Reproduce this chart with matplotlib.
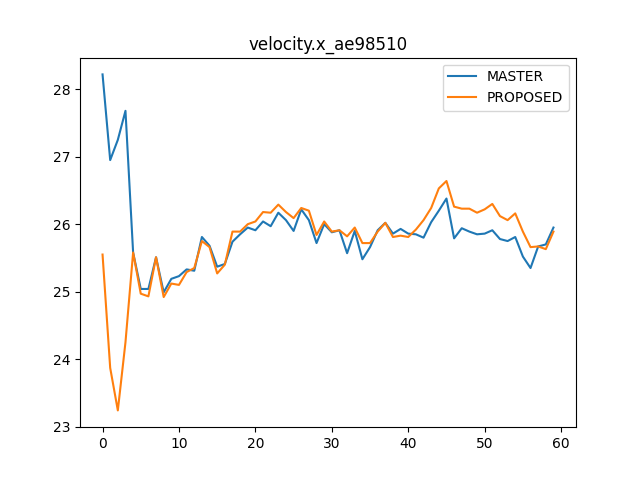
import matplotlib
matplotlib.use("Agg")
import matplotlib.pyplot as plt

# data
steps = list(range(60))

master = [
    28.22, 26.95, 27.25, 27.68, 25.58, 25.04, 25.04, 25.51, 24.99, 25.19,
    25.23, 25.33, 25.31, 25.81, 25.68, 25.37, 25.41, 25.74, 25.85, 25.95,
    25.91, 26.04, 25.97, 26.17, 26.06, 25.90, 26.22, 26.06, 25.72, 26.00,
    25.88, 25.91, 25.57, 25.90, 25.48, 25.66, 25.91, 26.02, 25.86, 25.93,
    25.86, 25.85, 25.80, 26.03, 26.20, 26.38, 25.79, 25.94, 25.89, 25.85,
    25.86, 25.91, 25.78, 25.75, 25.81, 25.52, 25.35, 25.67, 25.70, 25.95,
]

proposed = [
    25.55, 23.87, 23.24, 24.25, 25.58, 24.97, 24.93, 25.51, 24.92, 25.12,
    25.10, 25.29, 25.35, 25.75, 25.66, 25.27, 25.40, 25.89, 25.89, 26.00,
    26.04, 26.18, 26.17, 26.29, 26.18, 26.09, 26.24, 26.20, 25.84, 26.04,
    25.89, 25.91, 25.82, 25.95, 25.72, 25.72, 25.89, 26.02, 25.81, 25.83,
    25.81, 25.92, 26.06, 26.24, 26.53, 26.64, 26.26, 26.23, 26.23, 26.17,
    26.22, 26.30, 26.12, 26.06, 26.16, 25.89, 25.66, 25.67, 25.63, 25.89,
]

fig, ax = plt.subplots(figsize=(6.4, 4.8), dpi=100)
ax.plot(steps, master, label="MASTER")
ax.plot(steps, proposed, label="PROPOSED")
ax.set_title("velocity.x_ae98510")
ax.legend(loc="upper right")

fig.savefig("out.png")
